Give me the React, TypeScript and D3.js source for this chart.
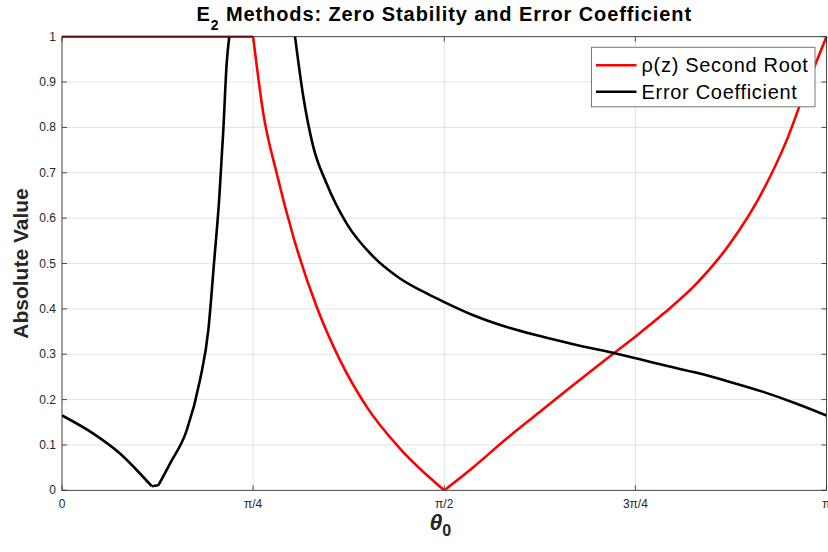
import React from "react";
import * as d3 from "d3";

// θ0 expressed in multiples of π
const redTheta = [0, 0.25, 0.2633, 0.2808, 0.3026, 0.3332, 0.3636, 0.3986, 0.4421, 0.5, 0.538, 0.5817, 0.6252, 0.6688, 0.7125, 0.756, 0.7865, 0.8302, 0.8738, 0.9173, 0.948, 0.974, 1.0];
const redValue = [1, 1, 0.831, 0.699, 0.559, 0.404, 0.287, 0.184, 0.092, 0, 0.051, 0.114, 0.173, 0.232, 0.29, 0.347, 0.389, 0.456, 0.544, 0.662, 0.772, 0.89, 1.0];

const blackTheta = [0, 0.041, 0.0759, 0.102, 0.1173, 0.126, 0.1413, 0.1631, 0.1805, 0.1914, 0.1988, 0.2058, 0.211, 0.2154, 0.2188, 0.26, 0.3048, 0.3156, 0.3287, 0.3462, 0.3724, 0.4072, 0.4421, 0.477, 0.5, 0.538, 0.5817, 0.6252, 0.6688, 0.7256, 0.756, 0.7865, 0.8302, 0.8738, 0.9173, 0.961, 1.0];
const blackValue: (number | null)[] = [0.165, 0.125, 0.081, 0.037, 0.009, 0.011, 0.059, 0.132, 0.243, 0.353, 0.5, 0.647, 0.794, 0.941, 1.0, null, 1.0, 0.868, 0.757, 0.676, 0.588, 0.515, 0.467, 0.434, 0.415, 0.386, 0.36, 0.34, 0.322, 0.301, 0.289, 0.276, 0.259, 0.239, 0.217, 0.191, 0.165];

// indices where the curves have corners (cusps) – smooth pieces are drawn between them
const redCorners = [1, 9];
const blackCorners = [4, 5];

const xTickValues = [0, 0.25, 0.5, 0.75, 1];
const xTickLabels = ["0", "π/4", "π/2", "3π/4", "π"];
const yTickValues = [0, 0.1, 0.2, 0.3, 0.4, 0.5, 0.6, 0.7, 0.8, 0.9, 1];
const yTickLabels = ["0", "0.1", "0.2", "0.3", "0.4", "0.5", "0.6", "0.7", "0.8", "0.9", "1"];
const seriesNames = ["ρ(z) Second Root", "Error Coefficient"];
const seriesColors = ["#ff0000", "#000000"];

const W = 828, H = 552;
const M = { left: 62, right: 826.5, top: 36.7, bottom: 490.3 };
const FONT = "'Liberation Sans', Arial, Helvetica, sans-serif";

type Pt = { t: number; v: number | null };

function pieces(pts: Pt[], corners: number[]): Pt[][] {
  const out: Pt[][] = [];
  let cur: Pt[] = [];
  pts.forEach((p, i) => {
    if (p.v === null) {
      if (cur.length) out.push(cur);
      cur = [];
      return;
    }
    cur.push(p);
    if (corners.includes(i)) {
      out.push(cur);
      cur = [p];
    }
  });
  if (cur.length > 1) out.push(cur);
  return out;
}

export default function App() {
  const x = d3.scaleLinear().domain([0, Math.PI]).range([M.left, M.right]);
  const y = d3.scaleLinear().domain([0, 1]).range([M.bottom, M.top]);

  const red: Pt[] = redTheta.map((t, i) => ({ t: t * Math.PI, v: redValue[i] }));
  const black: Pt[] = blackTheta.map((t, i) => ({ t: t * Math.PI, v: blackValue[i] }));

  const line = d3
    .line<Pt>()
    .x((d) => x(d.t))
    .y((d) => y(d.v as number))
    .curve(d3.curveMonotoneX);

  const buildPath = (pts: Pt[], corners: number[]) =>
    pieces(pts, corners).map((seg) => line(seg) || "").join(" ");

  const axisColor = "#262626";
  const gridColor = "#e3e3e3";
  const tickLen = 5;

  const legX = 591.5, legY = 47.3, legW = 223.5, legH = 59.5;

  return (
    <svg width={W} height={H} style={{ position: "absolute", left: 0, top: 0, background: "#fff" }} fontFamily={FONT}>
      <defs>
        <clipPath id="plotClip">
          <rect x={M.left} y={M.top - 2} width={M.right - M.left + 2} height={M.bottom - M.top + 2} />
        </clipPath>
      </defs>
      <rect x={0} y={0} width={W} height={H} fill="#fff" />
      {xTickValues.map((t, i) => (
        <line key={"gx" + i} x1={x(t * Math.PI)} x2={x(t * Math.PI)} y1={M.top} y2={M.bottom} stroke={gridColor} strokeWidth={1} />
      ))}
      {yTickValues.map((v, i) => (
        <line key={"gy" + i} x1={M.left} x2={M.right} y1={y(v)} y2={y(v)} stroke={gridColor} strokeWidth={1} />
      ))}
      {xTickValues.map((t, i) => (
        <g key={"tx" + i}>
          <line x1={x(t * Math.PI)} x2={x(t * Math.PI)} y1={M.bottom} y2={M.bottom - tickLen} stroke={axisColor} strokeWidth={0.8} />
          <line x1={x(t * Math.PI)} x2={x(t * Math.PI)} y1={M.top} y2={M.top + tickLen} stroke={axisColor} strokeWidth={0.8} />
          <text x={x(t * Math.PI)} y={M.bottom + 18} textAnchor="middle" fontSize={12} fill={axisColor}>{xTickLabels[i]}</text>
        </g>
      ))}
      {yTickValues.map((v, i) => (
        <g key={"ty" + i}>
          <line x1={M.left} x2={M.left + tickLen} y1={y(v)} y2={y(v)} stroke={axisColor} strokeWidth={0.8} />
          <line x1={M.right} x2={M.right - tickLen} y1={y(v)} y2={y(v)} stroke={axisColor} strokeWidth={0.8} />
          <text x={M.left - 6} y={y(v) + 4} textAnchor="end" fontSize={12} fill={axisColor}>{yTickLabels[i]}</text>
        </g>
      ))}
      <g clipPath="url(#plotClip)">
        <path d={buildPath(red, redCorners)} fill="none" stroke={seriesColors[0]} strokeWidth={2.6} strokeLinejoin="round" />
        <path d={buildPath(black, blackCorners)} fill="none" stroke={seriesColors[1]} strokeWidth={2.6} strokeLinejoin="round" />
      </g>
      <rect x={M.left} y={M.top} width={M.right - M.left} height={M.bottom - M.top} fill="none" stroke={axisColor} strokeWidth={0.8} />
      <rect x={legX} y={legY} width={legW} height={legH} fill="#fff" stroke="#777" strokeWidth={1} />
      {seriesNames.map((n, i) => (
        <g key={"lg" + i}>
          <line x1={legX + 4.5} x2={legX + 45} y1={legY + 18 + i * 26.5} y2={legY + 18 + i * 26.5} stroke={seriesColors[i]} strokeWidth={2.6} />
          <text x={legX + 50} y={legY + 18 + i * 27 + 6.5} fontSize={20} letterSpacing={0.7} fill="#000">{n}</text>
        </g>
      ))}
      <text x={(M.left + M.right) / 2} y={21} textAnchor="middle" fontSize={20} fontWeight="bold" letterSpacing={0.9} fill="#000">
        E<tspan fontSize={14} dy={8.5}>2</tspan><tspan dy={-8.5}> Methods: Zero Stability and Error Coefficient</tspan>
      </text>
      <text transform={`translate(28, ${(M.top + M.bottom) / 2}) rotate(-90)`} textAnchor="middle" fontSize={21} fontWeight="bold" fill="#262626">Absolute Value</text>
      <text x={(M.left + M.right) / 2 - 4} y={530} textAnchor="middle" fontSize={23} fontWeight="bold" fill="#262626">
        <tspan fontStyle="italic">θ</tspan><tspan fontSize={16} dy={6}>0</tspan>
      </text>
    </svg>
  );
}
